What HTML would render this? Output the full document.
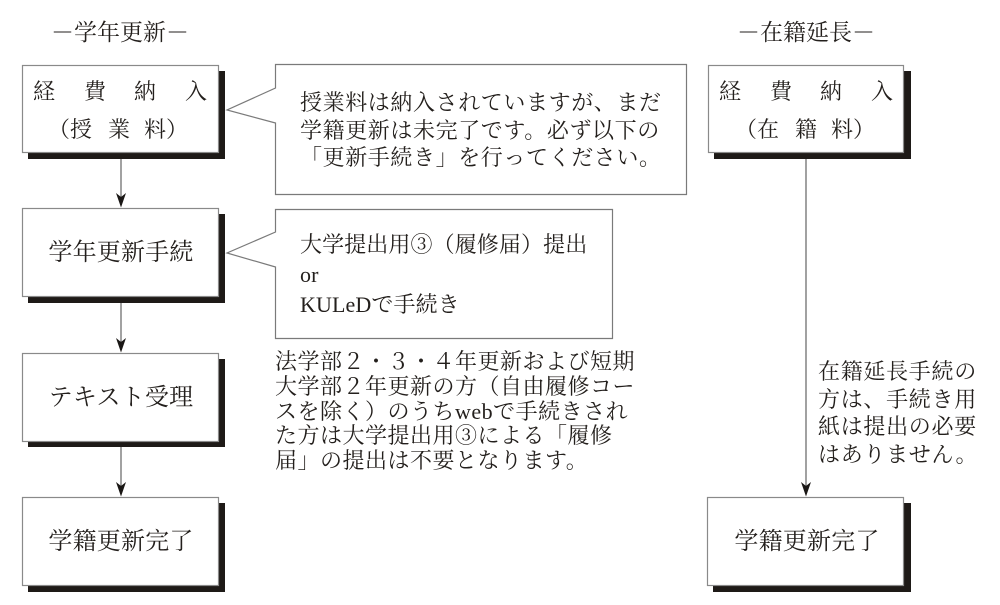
<!DOCTYPE html>
<html>
<head>
<meta charset="utf-8">
<style>
  html,body{margin:0;padding:0;background:#fff;}
  #wrap{position:relative;width:1000px;height:605px;overflow:hidden;background:#fff;
    font-family:"Liberation Serif","Noto Serif CJK SC",serif;color:#231f1c;}
  svg{position:absolute;left:0;top:0;}
  .t{position:absolute;white-space:nowrap;}
  .c{position:absolute;width:30px;text-align:center;font-size:22px;line-height:30px;height:30px;}
</style>
</head>
<body>
<div id="wrap">
<svg width="1000" height="605" viewBox="0 0 1000 605">
  <!-- shadows -->
  <g fill="#1e1a17">
    <rect x="28" y="71" width="197" height="88"/>
    <rect x="28" y="214" width="197" height="89"/>
    <rect x="28" y="359" width="197" height="88"/>
    <rect x="28" y="503" width="197" height="89"/>
    <rect x="714" y="71" width="197" height="88"/>
    <rect x="713" y="503" width="198" height="89"/>
  </g>
  <!-- boxes -->
  <g fill="#fff" stroke="#8a8a8a" stroke-width="1.2">
    <rect x="22.5" y="65.5" width="196" height="87"/>
    <rect x="22.5" y="208.5" width="196" height="88"/>
    <rect x="22.5" y="353.5" width="196" height="88"/>
    <rect x="22.5" y="497.5" width="196" height="88"/>
    <rect x="708.5" y="65.5" width="195" height="87"/>
    <rect x="707.5" y="497.5" width="196" height="88"/>
  </g>
  <!-- callouts -->
  <g fill="#fff" stroke="#7a7a7a" stroke-width="1.2">
    <path d="M275.5,88 L275.5,64.5 L686.5,64.5 L686.5,194.5 L275.5,194.5 L275.5,123 L227,110 Z"/>
    <path d="M275.5,232 L275.5,209.5 L612.5,209.5 L612.5,338.5 L275.5,338.5 L275.5,267 L227,253 Z"/>
  </g>
  <!-- connectors -->
  <g stroke="#555" stroke-width="1.1">
    <line x1="121" y1="159" x2="121" y2="200"/>
    <line x1="121" y1="303" x2="121" y2="345"/>
    <line x1="121" y1="447" x2="121" y2="489"/>
    <line x1="806" y1="159" x2="806" y2="489"/>
  </g>
  <g fill="#1a1715">
    <polygon points="121,207.5 116,193 121,197 126,193"/>
    <polygon points="121,352.5 116,338 121,342 126,338"/>
    <polygon points="121,496.5 116,482 121,486 126,482"/>
    <polygon points="806,496.5 801,482 806,486 811,482"/>
  </g>
</svg>

<!-- titles -->
<div class="t" style="left:20px;width:200px;top:18px;font-size:23px;line-height:30px;text-align:center;">－学年更新－</div>
<div class="t" style="left:706px;width:200px;top:18px;font-size:23px;line-height:30px;text-align:center;">－在籍延長－</div>

<!-- box 1 left -->
<div class="c" style="left:29px;top:77px;">経</div>
<div class="c" style="left:80px;top:77px;">費</div>
<div class="c" style="left:130px;top:77px;">納</div>
<div class="c" style="left:181px;top:77px;">入</div>
<div class="c" style="left:44px;top:115px;">（</div>
<div class="c" style="left:66px;top:115px;">授</div>
<div class="c" style="left:104px;top:115px;">業</div>
<div class="c" style="left:140px;top:115px;">料</div>
<div class="c" style="left:162px;top:115px;">）</div>

<!-- box 1 right -->
<div class="c" style="left:715px;top:77px;">経</div>
<div class="c" style="left:766px;top:77px;">費</div>
<div class="c" style="left:816px;top:77px;">納</div>
<div class="c" style="left:867px;top:77px;">入</div>
<div class="c" style="left:731px;top:115px;">（</div>
<div class="c" style="left:753px;top:115px;">在</div>
<div class="c" style="left:791px;top:115px;">籍</div>
<div class="c" style="left:827px;top:115px;">料</div>
<div class="c" style="left:849px;top:115px;">）</div>

<!-- box labels -->
<div class="t" style="left:22px;width:198px;top:238px;font-size:24px;line-height:30px;text-align:center;letter-spacing:0.2px;">学年更新手続</div>
<div class="t" style="left:22px;width:198px;top:383px;font-size:24px;line-height:30px;text-align:center;letter-spacing:0.2px;">テキスト受理</div>
<div class="t" style="left:22px;width:198px;top:527px;font-size:24px;line-height:30px;text-align:center;letter-spacing:0.2px;">学籍更新完了</div>
<div class="t" style="left:708px;width:198px;top:527px;font-size:24px;line-height:30px;text-align:center;letter-spacing:0.2px;">学籍更新完了</div>

<!-- callout 1 text -->
<div class="t" style="left:300px;top:89px;font-size:22px;line-height:27.5px;letter-spacing:0.6px;">授業料は納入されていますが、まだ<br>学籍更新は未完了です。必ず以下の<br>「更新手続き」を行ってください。</div>

<!-- callout 2 text -->
<div class="t" style="left:300px;top:230px;font-size:22px;line-height:30px;letter-spacing:0.1px;">大学提出用③（履修届）提出<br>or<br>KULeDで手続き</div>

<!-- note left -->
<div class="t" style="left:275px;top:350px;font-size:22px;line-height:24.8px;letter-spacing:0.5px;">法学部２・３・４年更新および短期<br>大学部２年更新の方（自由履修コー<br>スを除く）のうちwebで手続きされ<br>た方は大学提出用③による「履修<br>届」の提出は不要となります。</div>

<!-- note right -->
<div class="t" style="left:818px;top:358px;font-size:22px;line-height:27.7px;letter-spacing:0.7px;">在籍延長手続の<br>方は、手続き用<br>紙は提出の必要<br>はありません。</div>
</div>
</body>
</html>
